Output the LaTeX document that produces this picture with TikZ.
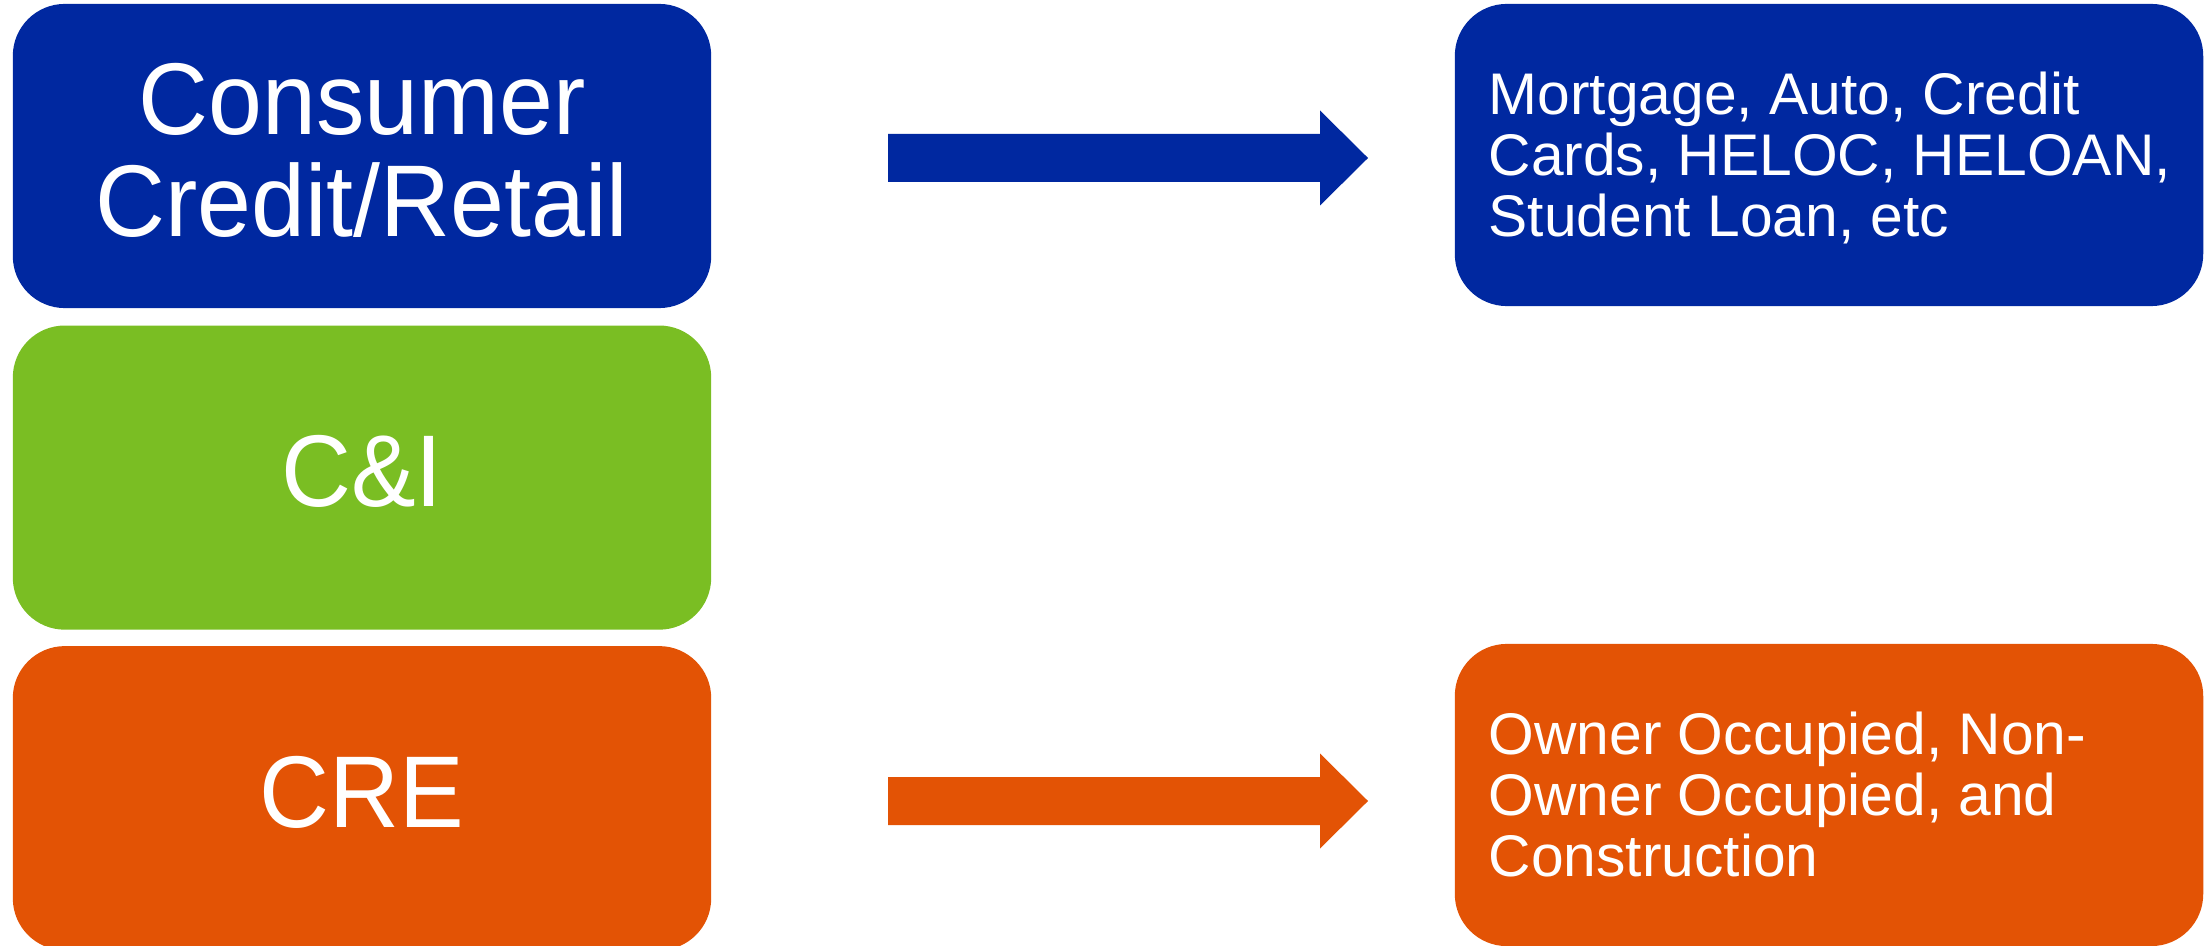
\documentclass[tikz,border=0pt]{standalone}
\usepackage{fontspec}
\setmainfont{Liberation Sans}
\newfontfamily\segfont[FakeStretch=0.95]{Liberation Sans}
\usetikzlibrary{positioning}

\definecolor{retailblue}{HTML}{0028A0}
\definecolor{cigreen}{HTML}{7ABE23}
\definecolor{creorange}{HTML}{E35305}

\tikzset{
    segment/.style={rounded corners=0.52cm, minimum width=6.98cm,
        minimum height=3.04cm, inner sep=0pt},
    segtext/.style={text=white, align=center, inner sep=0pt, yshift=0.06cm,
        font=\segfont\fontsize{29pt}{29pt}\selectfont},
    detail/.style={rounded corners=0.52cm, minimum width=7.48cm,
        minimum height=3.02cm, inner sep=0pt},
    detailtext/.style={text=white, align=left, inner sep=0pt,
        anchor=north west, font=\fontsize{16.7pt}{17.4pt}\selectfont},
}

\begin{document}
\begin{tikzpicture}[x=0.01cm, y=-0.01cm]
    \useasboundingbox (0,0) rectangle (2204,946);

    % Segments on the left
    \node[segment, fill=retailblue] (retail) at (362,156) {};
    \node[segment, fill=cigreen, below=0.16cm of retail] (ci) {};
    \node[segment, fill=creorange, below=0.15cm of ci] (cre) {};

    \node[segtext] (retailname) at (retail) {Consumer\\Credit/Retail};
    \node[segtext] (ciname) at (ci) {C\&I};
    \node[segtext] (crename) at (cre) {CRE};

    % Detail boxes on the right
    \node[detail, fill=retailblue] (retaildetail) at (1829,155) {};
    \node[detail, fill=creorange] (credetail) at (1829,795) {};

    \node[detailtext] (retailtext) at (1488,71)
        {Mortgage, Auto, Credit\\Cards, HELOC, HELOAN,\\Student Loan, etc};
    \node[detailtext] (cretext) at (1488,711)
        {Owner Occupied, Non-\\Owner Occupied, and\\Construction};

    % Block arrows
    \foreach \y/\col in {158/retailblue, 801/creorange} {
        \fill[\col]
            (888,\y-24) -- (1320,\y-24) -- (1320,\y-47.5)
            -- (1368,\y) -- (1320,\y+47.5) -- (1320,\y+24)
            -- (888,\y+24) -- cycle;
    }
\end{tikzpicture}
\end{document}
